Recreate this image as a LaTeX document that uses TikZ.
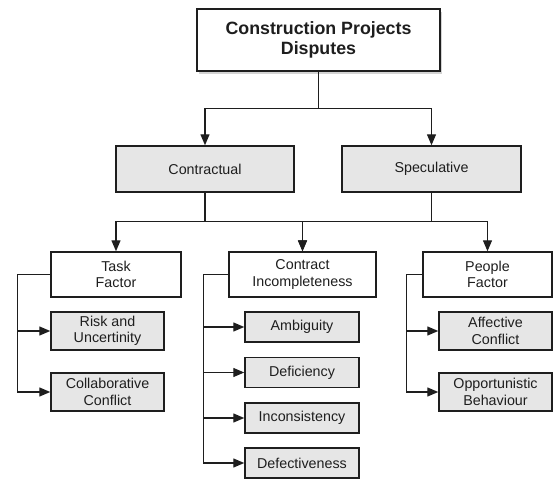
\documentclass[tikz,border=0pt]{standalone}
\usepackage{fontspec}
\setmainfont{Liberation Sans}
\usetikzlibrary{arrows.meta,shadows}
\definecolor{boxgray}{HTML}{E6E6E6}
\definecolor{ink}{HTML}{1E1E1E}
\begin{document}
\begin{tikzpicture}[x=1pt,y=-1pt,
 base/.style={draw=ink, line width=1.4pt, text=ink, inner sep=0pt, align=center,
   font=\fontsize{14.3}{16.5}\selectfont},
 whitebox/.style={base, fill=white},
 graybox/.style={base, fill=boxgray},
 conn/.style={draw=ink, line width=1.3pt},
 arr/.style={conn, -{Triangle[length=11pt,width=9pt]}}]
\useasboundingbox (0,0) rectangle (555,479);

\node[whitebox, minimum width=243pt, minimum height=62pt,
  font=\bfseries\fontsize{17.8}{20}\selectfont,
  drop shadow={shadow xshift=2pt, shadow yshift=-3pt, opacity=0.35}] (root) at (318.5,40) {Construction Projects\\Disputes};

\node[graybox, minimum width=178pt, minimum height=46pt] (contr) at (205,169) {Contractual};
\node[graybox, minimum width=179pt, minimum height=46pt] (spec) at (431.5,169) {Speculative};

\node[whitebox, minimum width=130pt, minimum height=45pt] (task) at (116,274.5) {Task\\Factor};
\node[whitebox, minimum width=147pt, minimum height=45pt] (ci) at (302.5,274.5) {Contract\\Incompleteness};
\node[whitebox, minimum width=129pt, minimum height=45pt] (people) at (487.5,274.5) {People\\Factor};

\node[graybox, minimum width=113pt, minimum height=38pt] (risk) at (107.5,331) {Risk and\\Uncertinity};
\node[graybox, minimum width=113pt, minimum height=38pt] (collab) at (107.5,392) {Collaborative\\Conflict};

\node[graybox, minimum width=114pt, minimum height=30pt] (amb) at (302,327) {Ambiguity};
\node[graybox, minimum width=114pt, minimum height=30pt] (defi) at (302,372.5) {Deficiency};
\node[graybox, minimum width=114pt, minimum height=30pt] (inco) at (302,418) {Inconsistency};
\node[graybox, minimum width=114pt, minimum height=30pt] (defe) at (302,463) {Defectiveness};

\node[graybox, minimum width=113pt, minimum height=38pt] (aff) at (495.5,331) {Affective\\Conflict};
\node[graybox, minimum width=113pt, minimum height=38pt] (opp) at (495.5,392) {Opportunistic\\Behaviour};

% level 1
\draw[conn] (root.south) -- ++(0,37) coordinate (j1);
\draw[arr] (j1) -| (contr.north);
\draw[arr] (j1) -| (spec.north);

% level 2
\draw[conn] (contr.south) -- ++(0,29) coordinate (j2);
\draw[conn] (spec.south) -- ++(0,29) coordinate (j3);
\draw[arr] (j2) -| (task.north);
\draw[arr] (j2) -| (ci.north);
\draw[arr] (j3) -| (ci.north);
\draw[arr] (j3) -| (people.north);

% brackets
\draw[arr] (task.west) -- ++(-33,0) |- (risk.west);
\draw[arr] (task.west) -- ++(-33,0) |- (collab.west);

\draw[arr] (ci.west) -- ++(-25,0) |- (amb.west);
\draw[arr] (ci.west) -- ++(-25,0) |- (defi.west);
\draw[arr] (ci.west) -- ++(-25,0) |- (inco.west);
\draw[arr] (ci.west) -- ++(-25,0) |- (defe.west);

\draw[arr] (people.west) -- ++(-16,0) |- (aff.west);
\draw[arr] (people.west) -- ++(-16,0) |- (opp.west);
\end{tikzpicture}
\end{document}
